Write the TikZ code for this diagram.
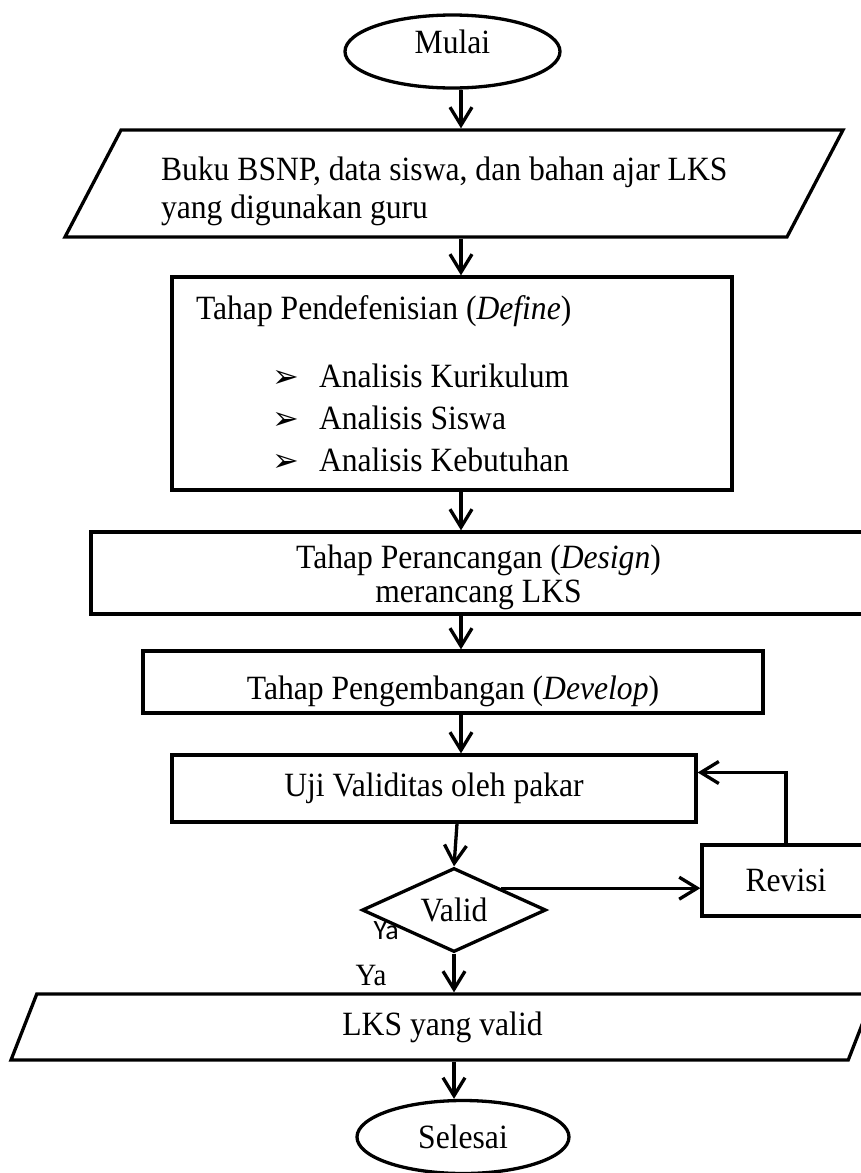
\documentclass[tikz,border=0pt]{standalone}
\usepackage{fontspec}
\setmainfont{Liberation Serif}[FakeStretch=0.93]
\newfontfamily\yafont{Carlito}
\newfontfamily\bulletfont{DejaVu Sans}
\usetikzlibrary{shapes.geometric,arrows.meta}
\newcommand{\pointitem}[1]{\hspace*{76pt}\makebox[47pt][l]{\bulletfont\fontsize{32}{32}\selectfont ➢}#1}

\begin{document}
\begin{tikzpicture}[x=1pt, y=-1pt, line width=3.3pt, font=\fontsize{34}{38}\selectfont,
    terminal/.style={draw, ellipse, inner sep=0pt, minimum width=#1, minimum height=73pt},
    stepbox/.style={draw, rectangle, inner sep=0pt, minimum height=#1},
    iobox/.style={draw, trapezium, trapezium stretches body, inner sep=0pt},
    decision/.style={draw, diamond, aspect=2.19, inner sep=0pt, minimum width=184pt, minimum height=84pt},
    flow/.style={-{Straight Barb[length=18pt,width=22pt]}}]
    \useasboundingbox (0,0) rectangle (861,1173);
    \clip (0,0) rectangle (861,1173);
    %\draw[gray, thin] (0,0) grid[step=50] (861,1173);
    \coordinate (spine) at (461,0);

    \node[terminal=215pt] (mulai) at (452.5,51.5) {\rule[-20pt]{0pt}{20pt}Mulai};
    \node[iobox, trapezium left angle=56.4, trapezium right angle=123.6, minimum width=778pt, minimum height=107pt,
          text width=586pt, align=left] (input) at (454,183.5)
          {\spaceskip=0pt \xspaceskip=0pt \rule{0pt}{39pt}\mbox{Buku BSNP, data siswa, dan bahan ajar LKS}\\yang digunakan guru};
    \node[stepbox=213pt, minimum width=560pt, text width=512pt, align=left] (define) at (452,383.5)
          {\spaceskip=0pt \xspaceskip=0pt Tahap Pendefenisian (\textit{Define})\\[30pt]
           \pointitem{Analisis Kurikulum}\\[4pt]
           \pointitem{Analisis Siswa}\\[4pt]
           \pointitem{Analisis Kebutuhan}};
    \node[stepbox=82pt, minimum width=775pt, align=center, font=\fontsize{34}{34}\selectfont] (design) at (478.5,573)
          {\rule{0pt}{32pt}Tahap Perancangan (\textit{Design})\\merancang LKS};
    \node[stepbox=62pt, minimum width=620pt] (develop) at (453,682) {\rule{0pt}{43pt}Tahap Pengembangan (\textit{Develop})};
    \node[stepbox=67pt, minimum width=524pt] (uji) at (434,788.5) {Uji Validitas oleh pakar};
    \node[decision] (valid) at (454,910) {Valid};
    \node[stepbox=71pt, minimum width=168pt] (revisi) at (786,880.5) {Revisi};
    \node[anchor=base west, inner sep=0pt, font=\yafont\fontsize{28}{28}\selectfont] (yakecil) at (372,939) {Ya};
    \node[anchor=base west, inner sep=0pt, font=\fontsize{31}{31}\selectfont] (yabawah) at (354,985) {Ya};
    \node[iobox, trapezium left angle=50.2, trapezium right angle=129.8, minimum width=863pt, minimum height=66pt] (lks) at (442.5,1027)
          {LKS yang valid};
    \node[terminal=212pt] (selesai) at (463,1137) {Selesai};

    \draw[flow] (mulai.south -| spine) -- (input.north -| spine);
    \draw[flow] (input.south -| spine) -- (define.north -| spine);
    \draw[flow] (define.south -| spine) -- (design.north -| spine);
    \draw[flow] (design.south -| spine) -- (develop.north -| spine);
    \draw[flow] (develop.south -| spine) -- (uji.north -| spine);
    \draw[flow] ([xshift=3pt]valid.north |- uji.south) -- (valid.north);
    \draw[flow] (valid.north east) -- (valid.north east -| revisi.west);
    \draw[flow] (revisi.north) |- ([yshift=16pt]uji.east);
    \draw[flow] (valid.south) -- (valid.south |- lks.north);
    \draw[flow] (lks.south -| valid) -- (selesai.north -| valid);
\end{tikzpicture}
\end{document}
